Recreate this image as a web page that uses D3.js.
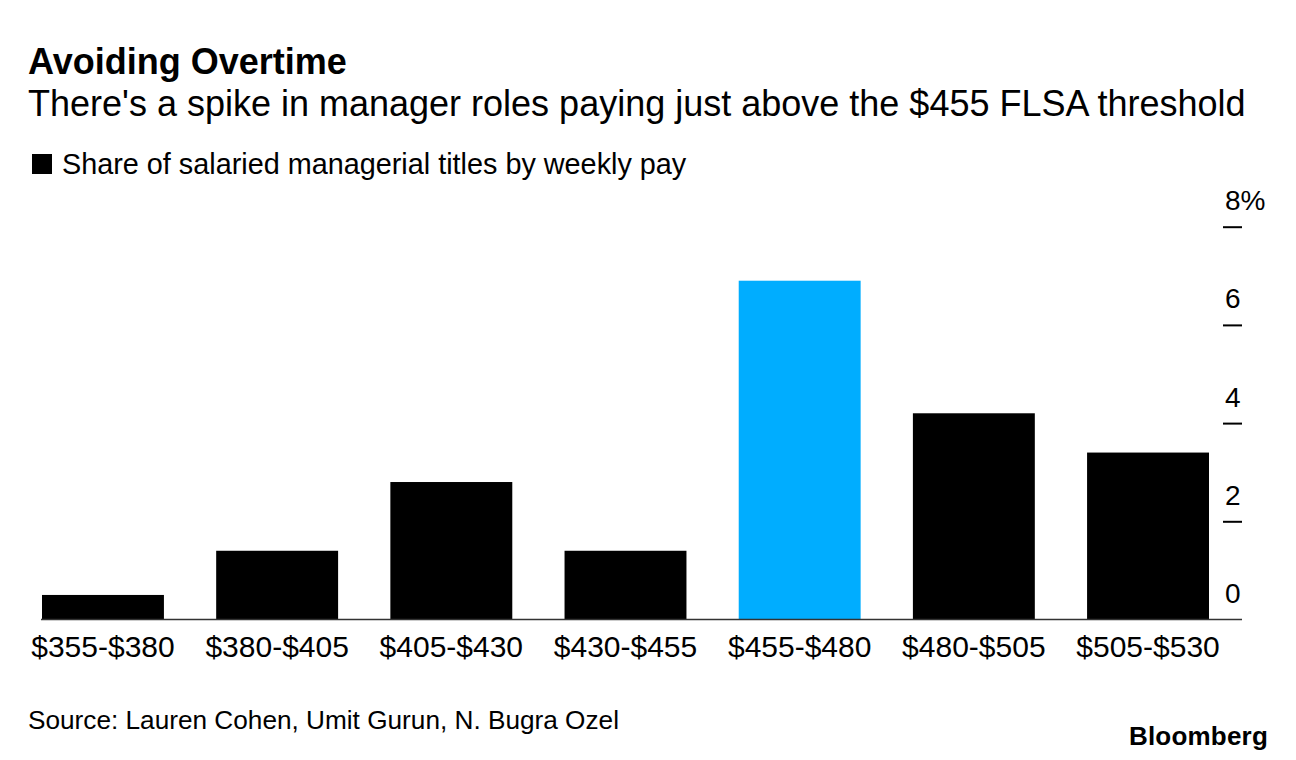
<!DOCTYPE html>
<html>
<head>
<meta charset="utf-8">
<script src="https://cdn.jsdelivr.net/npm/d3@7"></script>
<style>
  body { margin: 0; background: #fff; }
  svg { font-family: "Liberation Sans", Arial, sans-serif; }
</style>
</head>
<body>
<div id="chart"></div>
<script>
// data
const categories = ["$355-$380", "$380-$405", "$405-$430", "$430-$455", "$455-$480", "$480-$505", "$505-$530"];
const shares = [0.5, 1.4, 2.8, 1.4, 6.9, 4.2, 3.4];
const yTicks = [0, 2, 4, 6, 8];
const highlight = "$455-$480";

const width = 1296, height = 760;

var svg = d3
  .select("#chart")
  .append("svg")
  .attr("width", width)
  .attr("height", height);

// header
svg.append("text")
  .attr("x", 28).attr("y", 74)
  .attr("font-size", 36).attr("font-weight", "bold")
  .text("Avoiding Overtime");

svg.append("text")
  .attr("x", 28).attr("y", 116)
  .attr("font-size", 36)
  .text("There's a spike in manager roles paying just above the $455 FLSA threshold");

// legend
svg.append("rect")
  .attr("x", 32).attr("y", 154)
  .attr("width", 20).attr("height", 20)
  .attr("fill", "#000");
svg.append("text")
  .attr("x", 62).attr("y", 174)
  .attr("font-size", 28.8)
  .text("Share of salaried managerial titles by weekly pay");

// scales
var x = d3.scaleBand().domain(categories).range([42, 1209]).paddingInner(0.3).paddingOuter(0);
var y = d3.scaleLinear().domain([0, 8]).range([619.5, 226.7]);

// bars
svg.append("g")
  .selectAll("rect")
  .data(categories)
  .join("rect")
  .attr("x", d => x(d))
  .attr("width", x.bandwidth())
  .attr("y", (d, i) => y(shares[i]))
  .attr("height", (d, i) => y(0) - y(shares[i]))
  .attr("fill", d => d === highlight ? "#00adff" : "#000");

// baseline
svg.append("line")
  .attr("x1", 41).attr("x2", 1242)
  .attr("y1", y(0)).attr("y2", y(0))
  .attr("stroke", "#333").attr("stroke-width", 1.5);

// x axis labels
var xAxis = svg.append("g")
  .attr("transform", "translate(0," + y(0) + ")")
  .call(d3.axisBottom(x).tickSize(0).tickPadding(0));
xAxis.select(".domain").remove();
xAxis.selectAll("text")
  .attr("dy", null)
  .attr("y", 37)
  .attr("font-size", 30)
  .attr("font-family", "Liberation Sans, Arial, sans-serif")
  .attr("fill", "#000");

// y axis on the right, labels sit above short tick marks
var yAxis = svg.append("g")
  .attr("transform", "translate(1223,0)")
  .call(d3.axisRight(y).tickValues(yTicks).tickSize(0)
    .tickFormat(d => d === 8 ? d + "%" : d));
yAxis.select(".domain").remove();
yAxis.selectAll(".tick line")
  .attr("x1", 0).attr("x2", 19)
  .attr("stroke", "#000").attr("stroke-width", 2);
yAxis.selectAll(".tick line").filter(d => d === 0).remove();
yAxis.selectAll("text")
  .attr("x", 2).attr("dy", null).attr("y", -17)
  .attr("text-anchor", "start")
  .attr("font-size", 28)
  .attr("font-family", "Liberation Sans, Arial, sans-serif")
  .attr("fill", "#000");

// footer
svg.append("text")
  .attr("x", 28).attr("y", 729)
  .attr("font-size", 26.2)
  .text("Source: Lauren Cohen, Umit Gurun, N. Bugra Ozel");

svg.append("text")
  .attr("x", 1268).attr("y", 745)
  .attr("text-anchor", "end")
  .attr("font-size", 26).attr("font-weight", "bold")
  .attr("letter-spacing", 0.2)
  .text("Bloomberg");
</script>
</body>
</html>
